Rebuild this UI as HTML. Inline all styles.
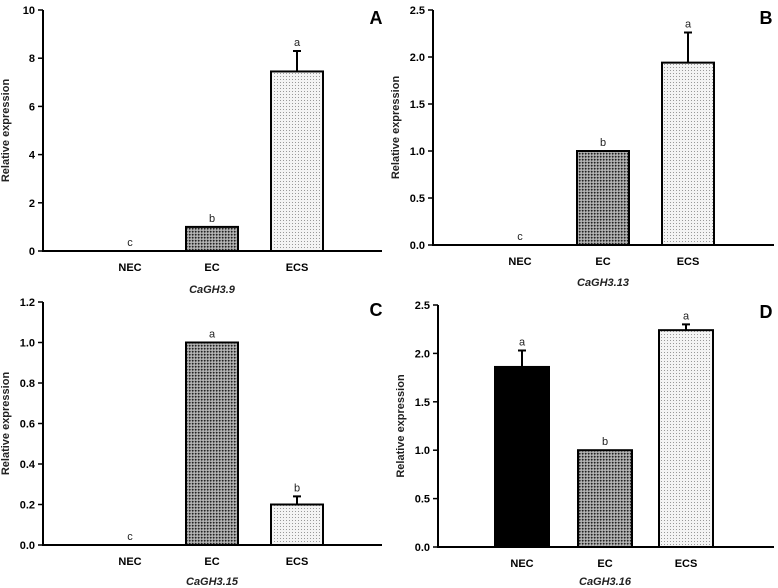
<!DOCTYPE html>
<html><head><meta charset="utf-8">
<style>
html,body{margin:0;padding:0;background:#fff;}
svg{display:block;font-family:"Liberation Sans",Arial,sans-serif;}
</style></head>
<body>
<svg id="chart" width="778" height="588" viewBox="0 0 778 588" xmlns="http://www.w3.org/2000/svg">
<defs>
<pattern id="pEC" width="3" height="3" patternUnits="userSpaceOnUse">
<rect width="3" height="3" fill="#9a9a9a"/>
<rect x="0" y="0" width="1.5" height="1.5" fill="#222"/>
<rect x="1.5" y="1.5" width="1" height="1" fill="#fff"/>
</pattern>
<pattern id="pECS" width="3" height="3" patternUnits="userSpaceOnUse">
<rect width="3" height="3" fill="#f4f4f4"/>
<rect x="1" y="1" width="1" height="1" fill="#999"/>
</pattern>
</defs>
</svg>
<script>
const categories = ["NEC", "EC", "ECS"];
const valuesA = [0, 1, 7.45];
const errorsA = [0, 0, 0.85];
const lettersA = ["c", "b", "a"];
const ticksA = [0, 2, 4, 6, 8, 10];
const valuesB = [0, 1, 1.94];
const errorsB = [0, 0, 0.32];
const lettersB = ["c", "b", "a"];
const ticksB = [0, 0.5, 1.0, 1.5, 2.0, 2.5];
const valuesC = [0, 1, 0.2];
const errorsC = [0, 0, 0.04];
const lettersC = ["c", "a", "b"];
const ticksC = [0, 0.2, 0.4, 0.6, 0.8, 1.0, 1.2];
const valuesD = [1.86, 1, 2.24];
const errorsD = [0.17, 0, 0.06];
const lettersD = ["a", "b", "a"];
const ticksD = [0, 0.5, 1.0, 1.5, 2.0, 2.5];

const svg = document.getElementById('chart');
const NS = 'http://www.w3.org/2000/svg';
function mk(tag, attrs, parent){
  const e = document.createElementNS(NS, tag);
  for (const k in attrs) e.setAttribute(k, attrs[k]);
  parent.appendChild(e); return e;
}
const fills = ["#000", "url(#pEC)", "url(#pECS)"];

function panel(cfg){
  const g = mk('g', {}, svg);
  
  
  const ymax = cfg.ticks[cfg.ticks.length-1];
  const y = v => cfg.y0 - (v / ymax) * (cfg.y0 - cfg.yTop);
  const x = i => cfg.centers[i];
  // bars
  cfg.values.forEach((v, i) => {
    if (v > 0) {
      const r = mk('rect', {x: x(i) - cfg.bw/2, y: y(v), width: cfg.bw, height: cfg.y0 - y(v), fill: fills[i], stroke: '#000', 'stroke-width': 2}, g);
      
      
    }
    const e = cfg.errors[i];
    if (e > 0) {
      const eb = mk('path', {d: `M${x(i)},${y(v)} V${y(v+e)} M${x(i)-4},${y(v+e)} H${x(i)+4}`, stroke: '#000', 'stroke-width': 2, fill: 'none'}, g);
      
      
    }
    const lt = mk('text', {x: x(i), y: y(v + e) - 5, 'font-size': 11, 'text-anchor': 'middle', fill: '#222'}, g);
    lt.textContent = cfg.letters[i];
    
    
    const cl = mk('text', {x: x(i), y: cfg.y0 + 20, 'font-size': 11, 'font-weight': 'bold', 'text-anchor': 'middle'}, g);
    cl.textContent = categories[i];
    
    
  });
  // axes
  const ax = mk('path', {d: `M${cfg.ax},${cfg.yTop} V${cfg.y0} H${cfg.xEnd}`, stroke: '#000', 'stroke-width': 2, fill: 'none'}, g);
  
  
  cfg.ticks.forEach(t => {
    mk('line', {x1: cfg.ax - 5, x2: cfg.ax, y1: y(t), y2: y(t), stroke: '#000', 'stroke-width': 1.5}, g);
    const tl = mk('text', {x: cfg.ax - 8, y: y(t) + 4, 'font-size': 11, 'font-weight': 'bold', 'text-anchor': 'end'}, g);
    tl.textContent = cfg.dec ? t.toFixed(cfg.dec) : String(t);
    
    
  });
  const yt = mk('text', {x: 0, y: 0, 'font-size': 11, 'font-weight': 'bold', 'text-anchor': 'middle', fill: '#222', transform: `translate(${cfg.ax - 34},${(cfg.yTop + cfg.y0)/2}) rotate(-90)`}, g);
  yt.textContent = 'Relative expression';
  
  
  const xt = mk('text', {x: cfg.centers[1], y: cfg.titleY, 'font-size': 11, 'font-weight': 'bold', 'font-style': 'italic', 'text-anchor': 'middle', fill: '#222'}, g);
  xt.textContent = cfg.title;
  
  
  const pl = mk('text', {x: cfg.labelX, y: cfg.labelY, 'font-size': 18, 'font-weight': 'bold', 'text-anchor': 'middle'}, g);
  pl.textContent = cfg.label;
  
  
}

panel({values: valuesA, errors: errorsA, letters: lettersA, ticks: ticksA, dec: 0, ax: 43, yTop: 10, y0: 251, xEnd: 382, centers: [130, 212, 297], bw: 52, title: 'CaGH3.9', titleY: 293, label: 'A', labelX: 376, labelY: 24});
panel({values: valuesB, errors: errorsB, letters: lettersB, ticks: ticksB, dec: 1, ax: 433, yTop: 10, y0: 245, xEnd: 774, centers: [520, 603, 688], bw: 52, title: 'CaGH3.13', titleY: 286, label: 'B', labelX: 766, labelY: 24});
panel({values: valuesC, errors: errorsC, letters: lettersC, ticks: ticksC, dec: 1, ax: 43, yTop: 302, y0: 545, xEnd: 382, centers: [130, 212, 297], bw: 52, title: 'CaGH3.15', titleY: 585, label: 'C', labelX: 376, labelY: 316});
panel({values: valuesD, errors: errorsD, letters: lettersD, ticks: ticksD, dec: 1, ax: 438, yTop: 305, y0: 547, xEnd: 774, centers: [522, 605, 686], bw: 54, title: 'CaGH3.16', titleY: 585, label: 'D', labelX: 766, labelY: 318});
</script>
</body></html>
